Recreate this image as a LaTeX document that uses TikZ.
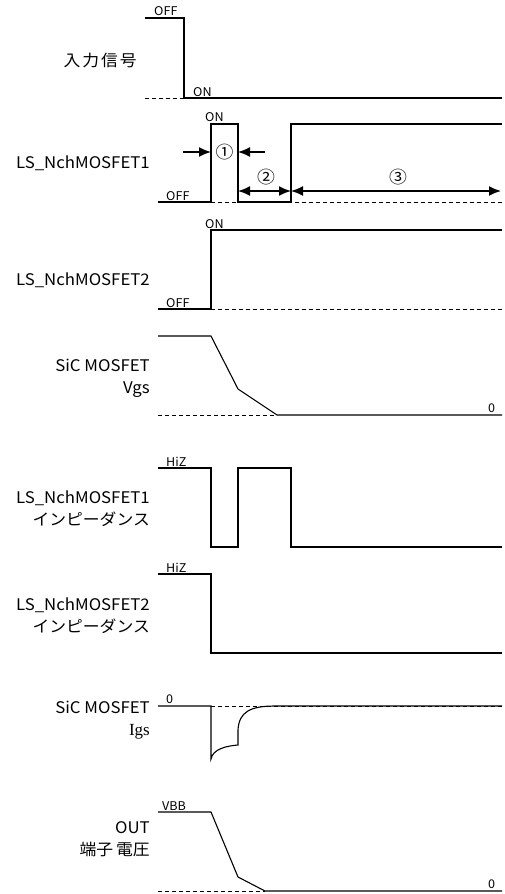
\documentclass[tikz,border=0pt]{standalone}
\usepackage{fontspec}
\setmainfont{Noto Sans CJK JP}[FakeStretch=1.05]
\newfontfamily\igsfont{Liberation Serif}
\usetikzlibrary{arrows.meta}
\begin{document}
\begin{tikzpicture}[x=1pt,y=-1pt,
 sig/.style={line width=1.1pt, line join=miter},
 ref/.style={line width=0.9pt, dash pattern=on 4pt off 3pt},
 lab/.style={anchor=east, font=\fontsize{16}{22}\selectfont, align=right, inner sep=0},
 lvl/.style={font=\fontsize{12}{12}\selectfont, inner sep=0, anchor=base west},
 num/.style={font=\fontsize{17}{17}\selectfont, inner sep=0},
 tip/.style={-{Latex[length=12pt,width=10pt]}, line width=1.6pt},
 dim/.style={{Latex[length=12pt,width=10pt]}-{Latex[length=12pt,width=10pt]}, line width=1.6pt},
]
\useasboundingbox (0,0) rectangle (504,894);

% labels
\node[lab] (l1) at (137,60) {入\kern2pt 力\kern2pt 信\kern2pt 号};
\node[lab] (l2) at (150,163) {LS\_NchMOSFET1};
\node[lab] (l3) at (150,280) {LS\_NchMOSFET2};
\node[lab] (l4) at (150,378) {SiC MOSFET\\Vgs};
\node[lab] (l5) at (150,509) {LS\_NchMOSFET1\\インピーダンス};
\node[lab] (l6) at (150,616) {LS\_NchMOSFET2\\インピーダンス};
\node[lab] (l7) at (150,720) {SiC MOSFET\\{\igsfont\fontsize{17}{22}\selectfont Igs}};
\node[lab] (l8) at (150,839) {OUT\\端子\kern3pt 電圧};

% input signal
\draw[sig] (145,18) -- (184,18) -- (184,98) -- (502,98);
\draw[ref] (145,98) -- (184,98);
\node[lvl] (s1off) at (154,16) {OFF};
\node[lvl] (s1on) at (193,96) {ON};

% LS1
\draw[ref] (211,202) -- (502,202);
\draw[sig] (158,202) -- (211,202) -- (211,124) -- (238,124) -- (238,202) -- (291,202) -- (291,124) -- (502,124);
\node[lvl] (s2on) at (205,121) {ON};
\node[lvl] (s2off) at (166,200) {OFF};
\coordinate (a1s) at (183,152); \coordinate (a1e) at (211,152);
\coordinate (a2s) at (265,152); \coordinate (a2e) at (238,152);
\draw[tip] (a1s) -- (a1e);
\draw[tip] (a2s) -- (a2e);
\node[num] (n1) at (224.5,152) {①};
\coordinate (d1) at (238,191); \coordinate (d2) at (291,191); \coordinate (d3) at (501,191);
\draw[dim] (d1) -- (d2);
\draw[dim] (d2) -- (d3);
\node[num] (n2) at (266,177) {②};
\node[num] (n3) at (398,177) {③};

% LS2
\draw[ref] (211,309) -- (502,309);
\draw[sig] (158,309) -- (211,309) -- (211,230) -- (502,230);
\node[lvl] (s3on) at (205,228) {ON};
\node[lvl] (s3off) at (166,307) {OFF};

% Vgs
\draw[ref] (158,415) -- (277,415);
\draw[sig] (158,336) -- (211,336) -- (238,389) -- (277,415) -- (502,415);
\node[lvl] (s4z) at (488,412) {0};

% Imp1
\draw[sig] (158,468) -- (211,468) -- (211,547) -- (238,547) -- (238,468) -- (291,468) -- (291,547) -- (502,547);
\node[lvl] (s5h) at (166,466) {HiZ};

% Imp2
\draw[sig] (158,574) -- (211,574) -- (211,653) -- (502,653);
\node[lvl] (s6h) at (166,572) {HiZ};

% Igs
\draw[ref] (211,706) -- (502,706);
\draw[sig] (158,706) -- (211,706) -- (211,759) .. controls (213,749) and (226,746) .. (238,745) -- (238,730) .. controls (239,712) and (250,706) .. (275,706) -- (502,706);
\node[lvl] (s7z) at (166,703) {0};

% OUT
\draw[ref] (158,891) -- (265,891);
\draw[sig] (158,812) -- (211,812) -- (238,877) -- (265,891) -- (502,891);
\node[lvl] (s8v) at (162,810) {VBB};
\node[lvl] (s8z) at (488,888) {0};
\end{tikzpicture}
\end{document}
